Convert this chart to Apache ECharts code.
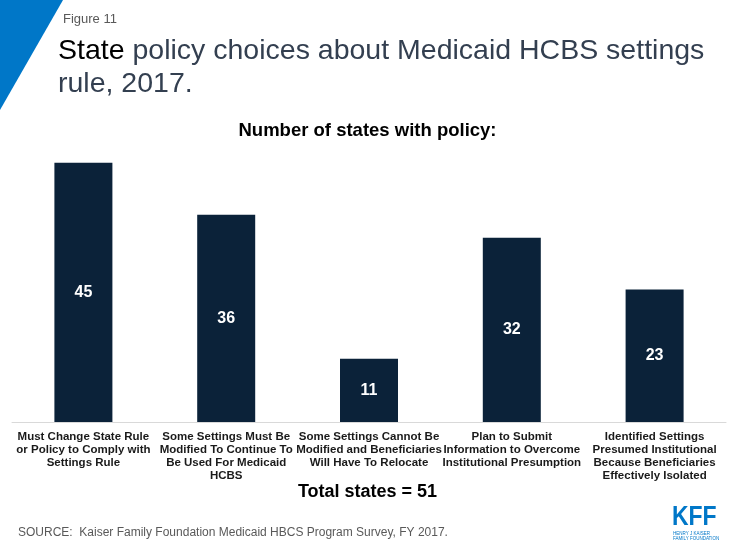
<!DOCTYPE html>
<html>
<head>
<meta charset="utf-8">
<script src="https://cdn.jsdelivr.net/npm/echarts@6/dist/echarts.min.js"></script>
<style>
html,body{margin:0;padding:0;background:#fff;}
#chart{width:735px;height:551px;}
</style>
</head>
<body>
<div id="chart"></div>
<script>
const categories = [
  "Must Change State Rule\nor Policy to Comply with\nSettings Rule",
  "Some Settings Must Be\nModified To Continue To\nBe Used For Medicaid\nHCBS",
  "Some Settings Cannot Be\nModified and Beneficiaries\nWill Have To Relocate",
  "Plan to Submit\nInformation to Overcome\nInstitutional Presumption",
  "Identified Settings\nPresumed Institutional\nBecause Beneficiaries\nEffectively Isolated"
];
const values = [45, 36, 11, 32, 23];

const SANS = "'Liberation Sans', Arial, sans-serif";

const chart = echarts.init(document.getElementById('chart'), null, {renderer: 'canvas'});
chart.setOption({
  backgroundColor: '#ffffff',
  animation: false,
  title: [
    {text: 'Figure 11', left: 58, top: 8, textStyle: {fontFamily: SANS, fontSize: 13, fontWeight: 'normal', color: '#595959'}},
    {text: 'Number of states with policy:', left: 'center', top: 116, textStyle: {fontFamily: SANS, fontSize: 18.5, fontWeight: 'bold', color: '#000000'}},
    {text: 'Total states = 51', left: 'center', top: 478, textStyle: {fontFamily: SANS, fontSize: 18, fontWeight: 'bold', color: '#000000'}},
    {text: 'SOURCE:  Kaiser Family Foundation Medicaid HBCS Program Survey, FY 2017.', left: 13, top: 522, textStyle: {fontFamily: SANS, fontSize: 12, fontWeight: 'normal', color: '#595959'}}
  ],
  graphic: [
    {type: 'polygon', shape: {points: [[0,0],[63,0],[0,110]]}, style: {fill: '#0077C8'}},
    {type: 'text', left: 58, top: 35, style: {
      text: '{a|State} policy choices about Medicaid HCBS settings\nrule, 2017.',
      rich: {a: {fill: '#000000', fontSize: 28.5, fontFamily: SANS, lineHeight: 33}},
      fill: '#333F50', fontSize: 28.5, fontFamily: SANS, lineHeight: 33
    }},
    {type: 'text', x: 672, y: 503, scaleX: 0.82, style: {text: 'KFF', fill: '#0077C8', fontSize: 28, fontWeight: 'bold', fontFamily: SANS}},
    {type: 'text', x: 673, y: 531, style: {text: 'HENRY J KAISER\nFAMILY FOUNDATION', fill: '#0077C8', fontSize: 4.5, lineHeight: 5, fontFamily: SANS}}
  ],
  grid: {left: 12, right: 9, top: 134, bottom: 129, containLabel: false, outerBoundsMode: 'none'},
  xAxis: {
    type: 'category',
    data: categories,
    axisLine: {show: true, lineStyle: {color: '#D9D9D9', width: 1}},
    axisTick: {show: false},
    axisLabel: {interval: 0, margin: 8, color: '#1a1a1a', fontSize: 11.5, fontWeight: 'bold', lineHeight: 13, fontFamily: SANS}
  },
  yAxis: {
    type: 'value', min: 0, max: 50, show: false,
    splitLine: {show: false}
  },
  series: [{
    type: 'bar',
    data: values,
    barWidth: 58,
    itemStyle: {color: '#0B2239'},
    label: {show: true, position: 'inside', color: '#ffffff', fontSize: 16, fontWeight: 'bold', fontFamily: SANS}
  }]
});
</script>
</body>
</html>
